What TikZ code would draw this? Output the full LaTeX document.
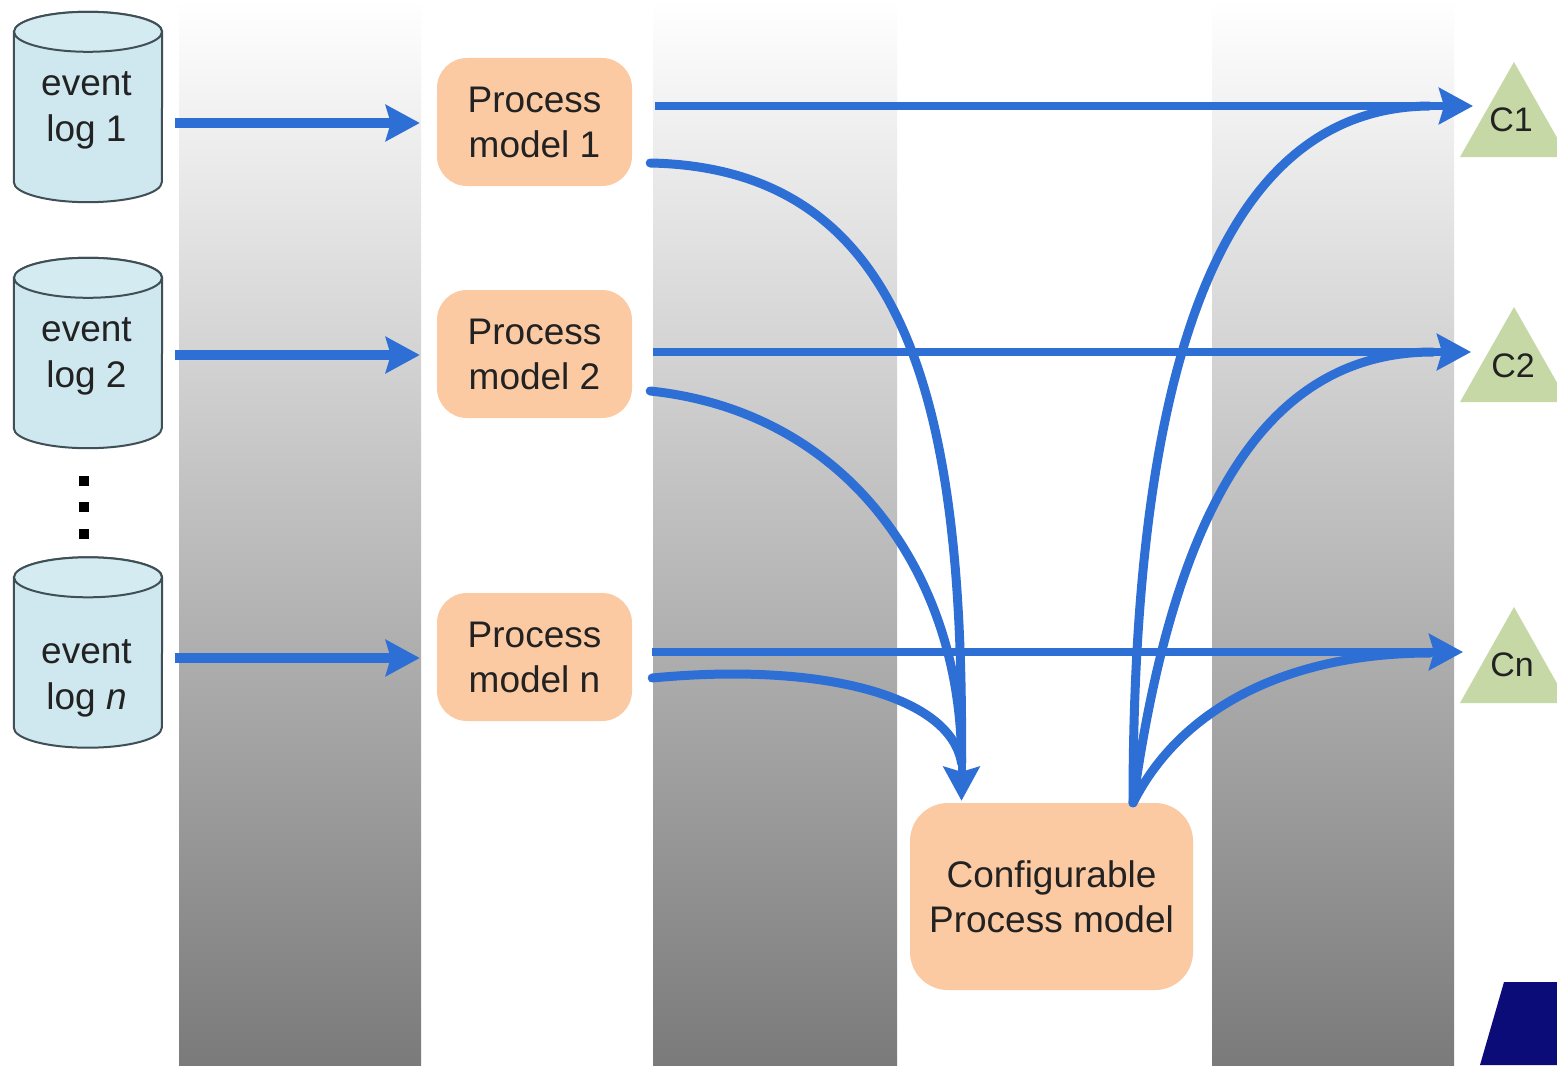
\documentclass[tikz,border=0pt]{standalone}
\usepackage{fontspec}
\setmainfont{Liberation Sans}
\usetikzlibrary{shapes.geometric,arrows.meta}
\definecolor{peach}{HTML}{FBC9A2}
\definecolor{cyl}{HTML}{CFE8F0}
\definecolor{cylrim}{HTML}{3F4F55}
\definecolor{arrowblue}{HTML}{2E6FD6}
\definecolor{tri}{HTML}{C6D8A6}
\definecolor{navy}{HTML}{0C0C78}
\definecolor{inktext}{HTML}{222222}
\tikzset{
  x=1pt,y=-1pt,
  band/.style={top color=white,bottom color=black!52,draw=none},
  logframe/.style={minimum width=148pt,minimum height=190pt,inner sep=0pt},
  drumbody/.style={fill=cyl,draw=cylrim,line width=2pt},
  drumtop/.style={fill=cyl!88!white,draw=cylrim,line width=2pt},
  logtext/.style={align=center,inner sep=0pt,text=inktext,font=\fontsize{37}{46}\selectfont},
  procbox/.style={fill=peach,rounded corners=30pt,minimum width=195pt,minimum height=128pt,
    align=center,inner sep=0pt,text=inktext,font=\fontsize{37}{45}\selectfont},
  conflabel/.style={text=inktext,inner sep=0pt,font=\fontsize{34}{40}\selectfont},
  trishape/.style={fill=tri,draw=none},
  dotbox/.style={fill=black,minimum size=10pt,inner sep=0pt},
  flow/.style={draw=arrowblue,line width=9.5pt,-{Stealth[length=34pt,width=36pt,inset=5pt]}},
  longflow/.style={draw=arrowblue,line width=8pt,-{Stealth[length=34pt,width=36pt,inset=5pt]}},
  curveflow/.style={draw=arrowblue,line width=9pt,line cap=round},
}
\newcommand\logdrum[1]{%
  \path[drumbody] ([shift={(0,20)}]#1.north west) -- ([shift={(0,-20)}]#1.south west)
    arc[start angle=180,end angle=360,x radius=74pt,y radius=20pt]
    -- ([shift={(0,20)}]#1.north east)
    arc[start angle=0,end angle=180,x radius=74pt,y radius=20pt] -- cycle;
  \path[drumtop] ([shift={(0,20)}]#1.north) ellipse[x radius=74pt,y radius=20pt];
}
\begin{document}
\begin{tikzpicture}
\clip (0,0) rectangle (1557,1065);
\fill[white] (0,0) rectangle (1557,1065);
% grey bands
\shade[band] (179,0) rectangle (421,1065);
\shade[band] (653,0) rectangle (897,1065);
\shade[band] (1212,0) rectangle (1454,1065);
% corner shape
\fill[navy] (1504,982) -- (1557,982) -- (1557,1065) -- (1480,1065) -- cycle;
% triangles
\fill[trishape] (1514,62) -- (1568,157) -- (1460,157) -- cycle;
\fill[trishape] (1514,307) -- (1568,402) -- (1460,402) -- cycle;
\fill[trishape] (1514,607) -- (1568,703) -- (1460,703) -- cycle;
\node[conflabel] (c1) at (1511,120) {C1};
\node[conflabel] (c2) at (1513,366) {C2};
\node[conflabel] (cn) at (1512,665) {Cn};
% logs
\node[logframe] (l1) at (88,107) {};
\node[logframe] (l2) at (88,353) {};
\node[logframe] (ln) at (88,652.5) {};
\logdrum{l1}\logdrum{l2}\logdrum{ln}
\node[logtext] (l1t) at (86.5,110) {event\\log 1};
\node[logtext] (l2t) at (86.5,356.5) {event\\log 2};
\node[logtext] (lnt) at (86.5,678) {event\\log \textit{n}};
\node[dotbox] (d1) at (84,481) {};
\node[dotbox] (d2) at (84,507) {};
\node[dotbox] (d3) at (84,534) {};
% process models
\node[procbox] (p1) at (534.5,122) {Process\\model 1};
\node[procbox] (p2) at (534.5,354) {Process\\model 2};
\node[procbox] (pn) at (534.5,657) {Process\\model n};
\node[procbox,minimum width=283pt,minimum height=187pt,rounded corners=38pt] (cm) at (1051.5,896.5) {Configurable\\Process model};
% log to model
\draw[flow] ([shift={(13,16)}]l1.east) -- ([shift={(-17,1)}]p1.west);
\draw[flow] ([shift={(13,2)}]l2.east) -- ([shift={(-17,1)}]p2.west);
\draw[flow] ([shift={(13,5.5)}]ln.east) -- ([shift={(-17,1)}]pn.west);
% models into the configurable model
\draw[curveflow] ([shift={(18,41)}]p1.east) .. controls (910,168) and (964,410) .. ([shift={(-90,-40)}]cm.north);
\draw[curveflow] ([shift={(18,37)}]p2.east) .. controls (850,412) and (962,578) .. ([shift={(-90,-40)}]cm.north);
\draw[curveflow] ([shift={(20,21)}]pn.east) .. controls (820,662) and (950,695) .. ([shift={(-90,-40)}]cm.north);
\draw[longflow,line cap=butt] ([shift={(-90,-40)}]cm.north) -- ([shift={(-90,-2)}]cm.north);
% configurable model to configurations
\coordinate (cmo) at ([shift={(81.5,0)}]cm.north);
\draw[curveflow] (cmo) .. controls (1133,380) and (1215,108) .. ([shift={(-60,-14)}]c1.west);
\draw[curveflow] (cmo) .. controls (1175,500) and (1270,352) .. ([shift={(-58,-14)}]c2.west);
\draw[curveflow] (cmo) .. controls (1185,700) and (1300,653) .. ([shift={(-60,-12)}]cn.west);
% straight lines from models
\draw[longflow] ([shift={(23,-16)}]p1.east) -- ([shift={(-16,-14)}]c1.west);
\draw[longflow] ([shift={(21,-2)}]p2.east) -- ([shift={(-20,-14)}]c2.west);
\draw[longflow] ([shift={(20,-5)}]pn.east) -- ([shift={(-27,-13)}]cn.west);
\end{tikzpicture}
\end{document}
